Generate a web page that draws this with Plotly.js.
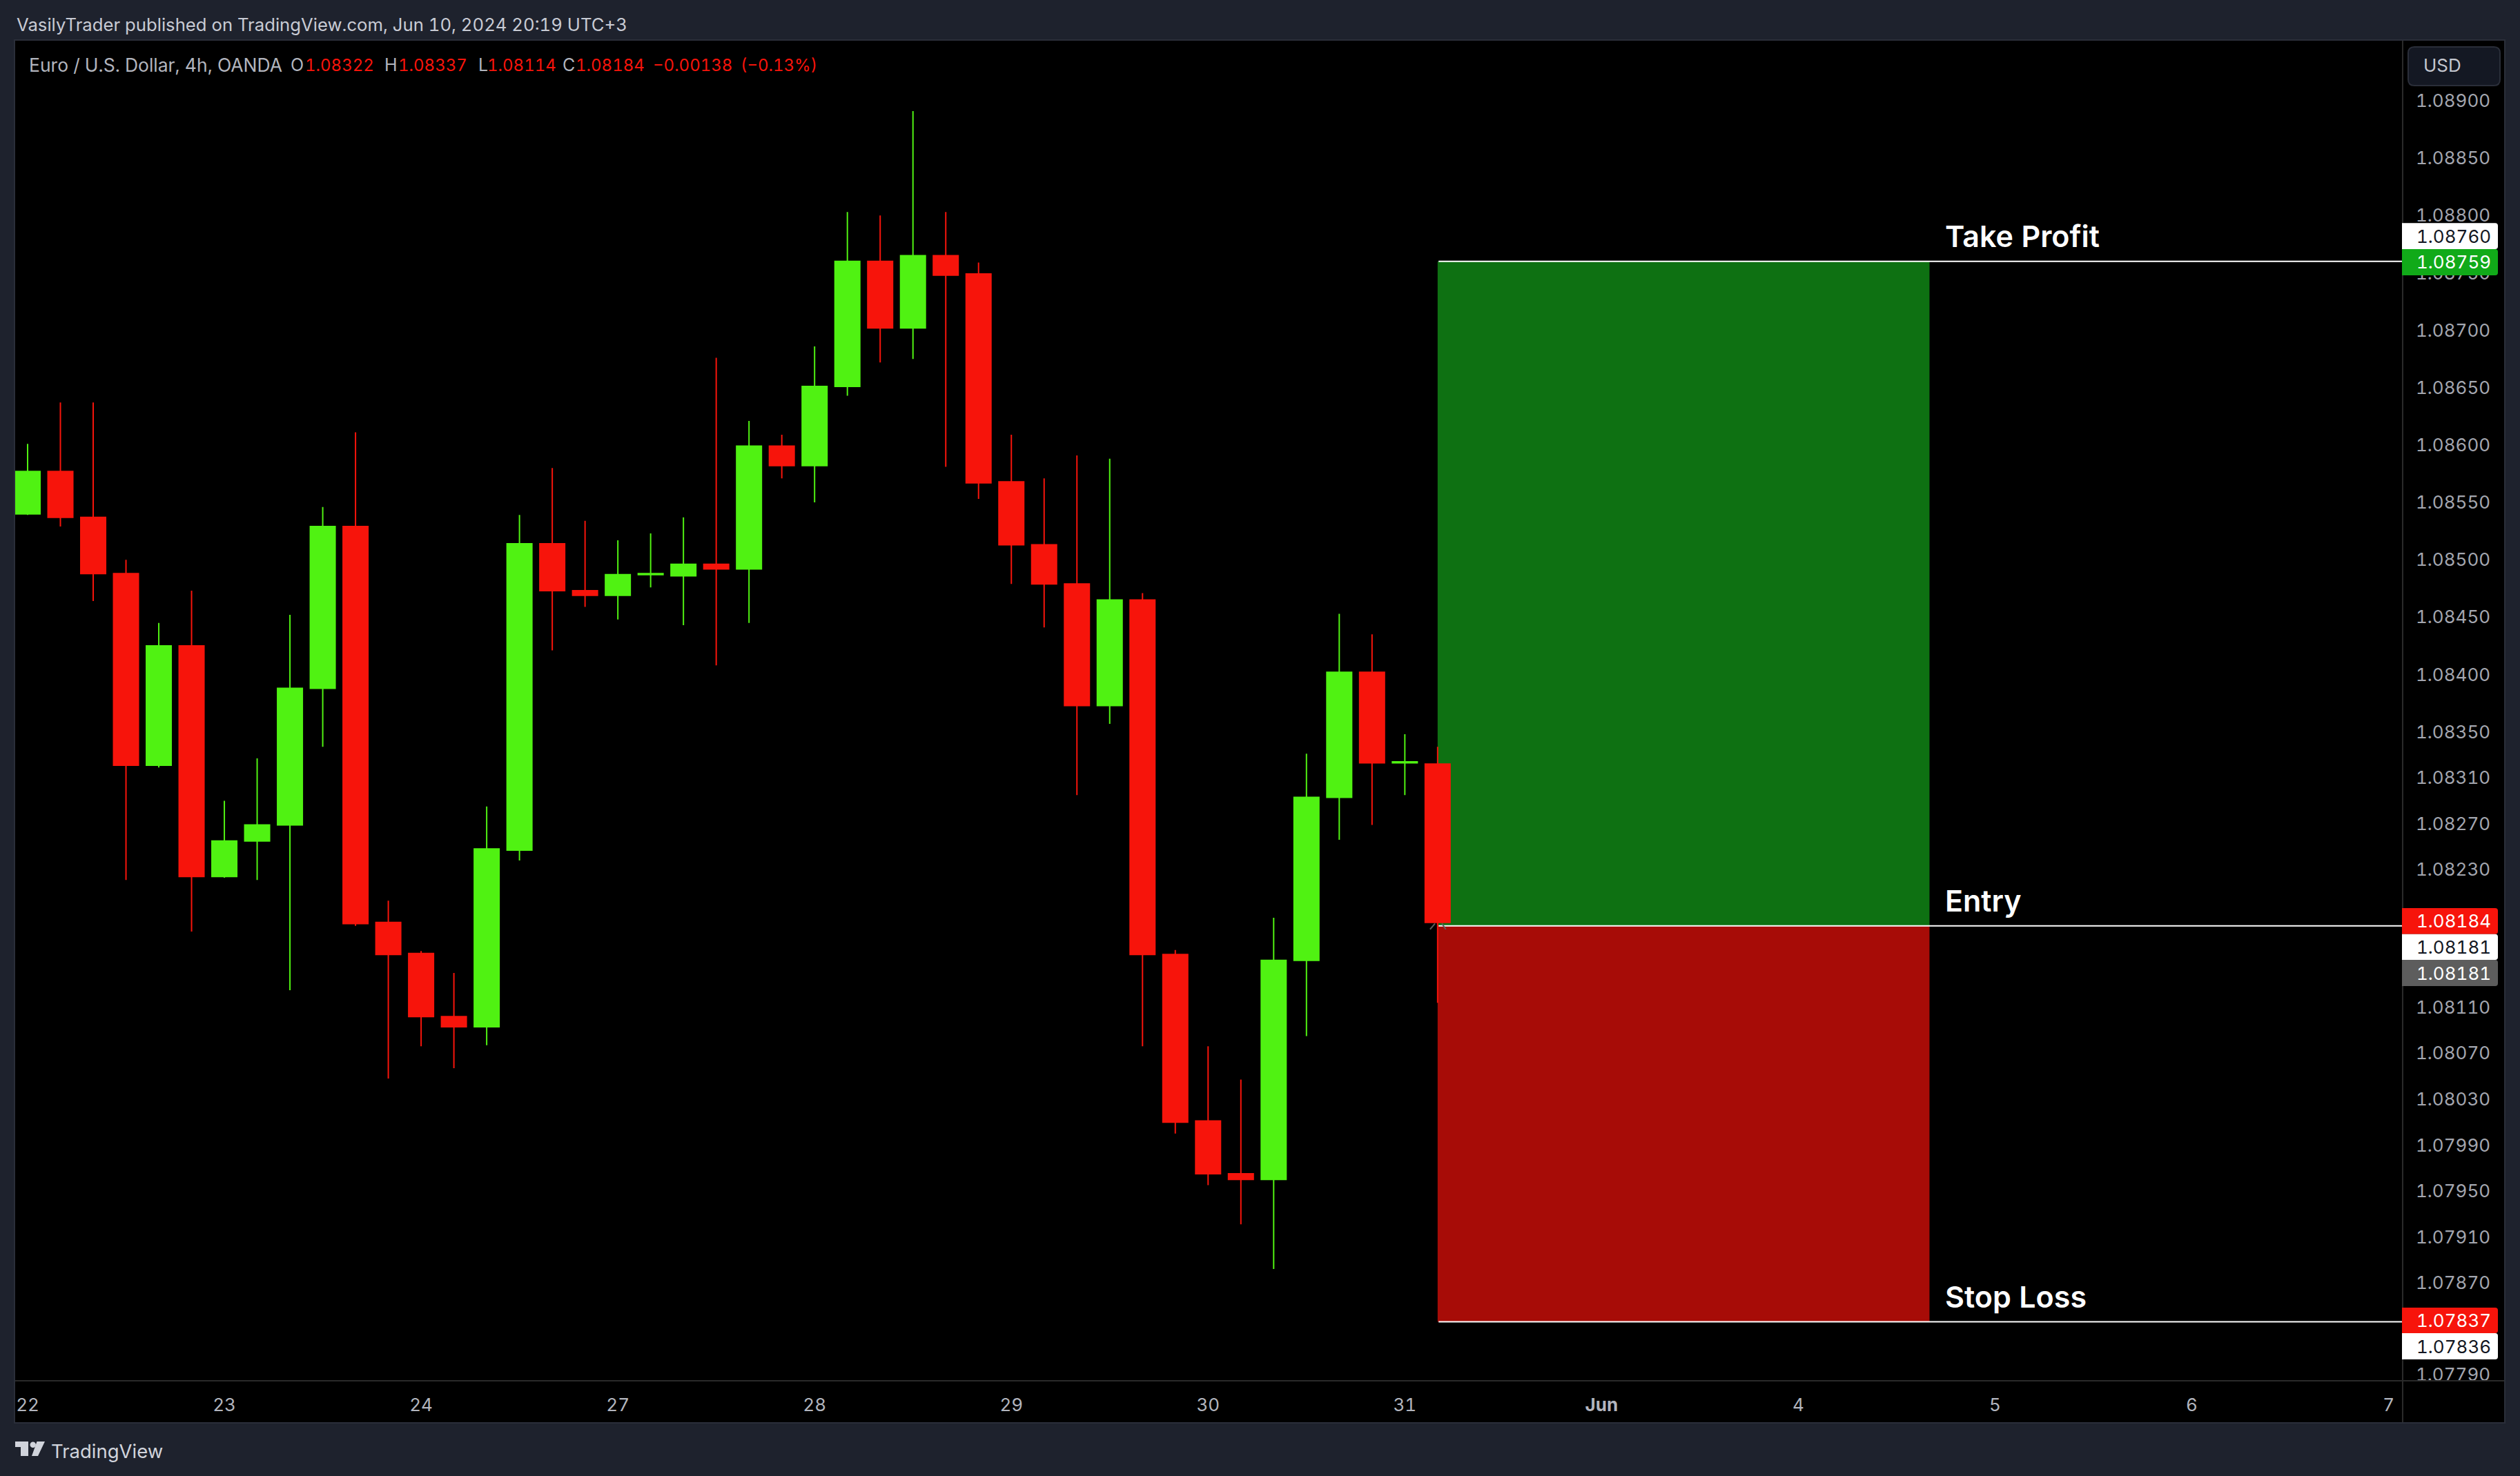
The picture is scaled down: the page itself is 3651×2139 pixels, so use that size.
<!DOCTYPE html>
<html>
<head>
<meta charset="utf-8">
<script src="https://cdn.plot.ly/plotly-3.0.1.min.js"></script>
<style>html,body{margin:0;padding:0;background:#1e222d;overflow:hidden}#chart{width:3651px;height:2139px}
svg text{font-feature-settings:"tnum" 1;font-variant-numeric:tabular-nums}</style>
</head>
<body>
<div id="chart"></div>
<script>
const candleOpen = [1.08540,1.08577,1.08537,1.08488,1.08321,1.08425,1.08224,1.08255,1.08269,1.08388,1.08529,
  1.08184,1.08157,1.08102,1.08093,1.08247,1.08514,1.08473,1.08469,1.08487,1.08486,1.08496,
  1.08492,1.08599,1.08582,1.08651,1.08760,1.08702,1.08765,1.08749,1.08568,1.08513,1.08479,
  1.08373,1.08465,1.08156,1.08011,1.07965,1.07960,1.08151,1.08293,1.08402,1.08323,1.08322];
const candleHigh = [1.08601,1.08637,1.08637,1.08500,1.08445,1.08473,1.08290,1.08327,1.08452,1.08546,1.08611,
  1.08203,1.08159,1.08140,1.08285,1.08539,1.08580,1.08534,1.08517,1.08523,1.08537,1.08676,
  1.08621,1.08609,1.08686,1.08803,1.08800,1.08891,1.08803,1.08759,1.08609,1.08571,1.08591,
  1.08588,1.08471,1.08160,1.08076,1.08047,1.08188,1.08331,1.08453,1.08435,1.08348,1.08337];
const candleLow = [1.08539,1.08529,1.08464,1.08221,1.08319,1.08176,1.08223,1.08221,1.08125,1.08337,1.08181,
  1.08048,1.08076,1.08057,1.08077,1.08238,1.08421,1.08459,1.08448,1.08476,1.08443,1.08408,
  1.08445,1.08571,1.08550,1.08643,1.08672,1.08675,1.08581,1.08553,1.08479,1.08441,1.08295,
  1.08357,1.08076,1.08000,1.07955,1.07921,1.07882,1.08085,1.08256,1.08269,1.08295,1.08114];
const candleClose = [1.08577,1.08537,1.08488,1.08321,1.08425,1.08224,1.08255,1.08269,1.08388,1.08529,1.08183,
  1.08156,1.08102,1.08093,1.08248,1.08514,1.08473,1.08469,1.08487,1.08488,1.08496,1.08492,
  1.08599,1.08582,1.08651,1.08760,1.08702,1.08765,1.08748,1.08567,1.08513,1.08479,1.08373,
  1.08465,1.08156,1.08010,1.07965,1.07960,1.08151,1.08293,1.08402,1.08323,1.08324,1.08184];
const candleIndex = candleOpen.map((_, i) => i);

const dayTickIndex = [0,6,12,18,24,30,36,42,48,54,60,66,72];
const dayTickText = ['22','23','24','27','28','29','30','31','<b>Jun</b>','4','5','6','7'];
const priceTicks = [1.08900,1.08850,1.08800,1.08750,1.08700,1.08650,1.08600,1.08550,1.08500,1.08450,1.08400,1.08350,
  1.08310,1.08270,1.08230,1.08190,1.08110,1.08070,1.08030,1.07990,1.07950,1.07910,1.07870,1.07790];

const takeProfit = 1.08760, entry = 1.08181, stopLoss = 1.07836;
const zoneStartIndex = 43, zoneEndIndex = 58;
const entryMarkX = [42.77,42.92,null,43.13,43.25];
const entryMarkY = [1.08178,1.08183,null,1.08183,1.08178];

const GREEN = '#50f212', RED = '#f7140b', FONT = 'Inter, "Noto Sans", sans-serif';
const BG = '#1e222d', BORDER = '#2a2e39', SEP = '#2a2a2a';

// page furniture is placed in page pixels and converted to the paper frame
const L = 22, R = 3481, T = 59, B = 2001;
const px = x => (x - L) / (R - L);
const py = y => (B - y) / (B - T);
const rectPx = (x0, y0, x1, y1, fill, layer, line) => ({type:'rect', xref:'paper', yref:'paper',
  x0:px(x0), x1:px(x1), y0:py(y0), y1:py(y1), fillcolor:fill, layer:layer||'above',
  line: line ? {color:line, width:2} : {width:0}});
const poly = (pts, fill) => ({type:'path', xref:'paper', yref:'paper', layer:'above', fillcolor:fill, line:{width:0},
  path:'M' + pts.map(p => px(p[0]) + ',' + py(p[1])).join('L') + 'Z'});
function tag(y0, y1, fill) {
  const x0 = 3480, x1 = 3619, r = 4;
  const P = (x, y) => px(x) + ',' + py(y);
  return {type:'path', xref:'paper', yref:'paper', layer:'above', fillcolor:fill, line:{width:0},
    path:'M'+P(x0,y0)+'L'+P(x1-r,y0)+'Q'+P(x1,y0)+' '+P(x1,y0+r)+'L'+P(x1,y1-r)+'Q'+P(x1,y1)+' '+P(x1-r,y1)+'L'+P(x0,y1)+'Z'};
}
function roundRect(x0,y0,x1,y1,r,fill,line){
  const P = (x, y) => px(x) + ',' + py(y);
  return {type:'path', xref:'paper', yref:'paper', layer:'above', fillcolor:fill, line:{color:line,width:2},
    path:'M'+P(x0+r,y0)+'L'+P(x1-r,y0)+'Q'+P(x1,y0)+' '+P(x1,y0+r)+'L'+P(x1,y1-r)+'Q'+P(x1,y1)+' '+P(x1-r,y1)+
      'L'+P(x0+r,y1)+'Q'+P(x0,y1)+' '+P(x0,y1-r)+'L'+P(x0,y0+r)+'Q'+P(x0,y0)+' '+P(x0+r,y0)+'Z'};
}

const tags = [
  [323.3,361,'#ffffff','1.08760','#131722'],
  [361,399,'#11aa19','1.08759','#ffffff'],
  [1316,1353.7,RED,'1.08184','#ffffff'],
  [1353.7,1391,'#ffffff','1.08181','#131722'],
  [1391,1429,'#5d5d5d','1.08181','#ffffff'],
  [1895,1932,RED,'1.07837','#ffffff'],
  [1932,1970,'#ffffff','1.07836','#131722']
];

const shapes = [
  // panes behind the axes
  rectPx(R, T, 3628, 2061, '#000000', 'below'),
  rectPx(L, B, R, 2061, '#000000', 'below'),
  // trade zones
  {type:'rect', xref:'x', yref:'y', x0:zoneStartIndex, x1:zoneEndIndex, y0:entry, y1:takeProfit, fillcolor:'#0e7112', line:{width:0}, layer:'below'},
  {type:'rect', xref:'x', yref:'y', x0:zoneStartIndex, x1:zoneEndIndex, y0:stopLoss, y1:entry, fillcolor:'#a70c07', line:{width:0}, layer:'below'},
  ...[takeProfit, entry, stopLoss].map(v => ({type:'line', xref:'x', yref:'y', x0:zoneStartIndex+0.03, x1:72.43, y0:v, y1:v, line:{color:'#ffffff', width:2}, layer:'below'})),
  // clip the price scale at the time scale, separators, frame
  rectPx(R+1, B, 3628, 2061, '#000000'),
  rectPx(R-1, T, R+1, 2061, SEP),
  rectPx(L, B-1, 3628, B+1, SEP),
  rectPx(21, 58, 3629, 2062, 'rgba(0,0,0,0)', 'above', BORDER),
  // scale tags
  ...tags.map(t => tag(t[0], t[1], t[2])),
  // currency button
  roundRect(3489, 68, 3622, 124, 9, '#141823', BORDER),
  // logo
  poly([[22,2089],[41,2089],[41,2110],[30,2110],[30,2097],[22,2097]], '#d1d4dc'),
  poly([[53.5,2089],[65,2089],[55,2110],[46,2110]], '#d1d4dc'),
  {type:'circle', xref:'paper', yref:'paper', layer:'above', fillcolor:'#d1d4dc', line:{width:0},
    x0:px(43.5), x1:px(52), y0:py(2089.5), y1:py(2098)}
];

const pageText = (x, y, text, size, color, anchor, extra) => Object.assign({xref:'paper', yref:'paper', x:px(x), y:py(y),
  text, showarrow:false, xanchor:anchor||'left', yanchor:'middle', borderpad:0, align:anchor||'left',
  font:{family:FONT, size, color}}, extra||{});
const legendGrey = '#b2b5be';
const legendBits = [
  [41,'Euro / U.S. Dollar, 4h, OANDA',legendGrey,26.5],
  [420,'O',legendGrey,25],[441,'1.08322',RED,24],
  [556,'H',legendGrey,25],[576,'1.08337',RED,24],
  [692,'L',legendGrey,25],[705,'1.08114',RED,24],
  [814,'C',legendGrey,25],[833,'1.08184',RED,24],
  [945,'\u22120.00138',RED,24],[1072,'(\u22120.13%)',RED,24]
];

const annotations = [
  pageText(23, 36, 'VasilyTrader published on TradingView.com, Jun 10, 2024 20:19 UTC+3', 25.7, '#c8cbd4'),
  ...legendBits.map(b => pageText(b[0], 94, b[1], b[3], b[2])),
  pageText(3510, 95, 'USD', 26, '#c4c7d0'),
  pageText(73, 2103, 'TradingView', 27.5, '#d1d4dc'),
  ...tags.map(t => pageText(3610, (t[0]+t[1])/2, t[3], 26, t[4], 'right')),
  ...[['Take Profit',takeProfit],['Entry',entry],['Stop Loss',stopLoss]].map(a => ({xref:'x', yref:'y', x:zoneEndIndex, y:a[1],
    text:a[0], showarrow:false, xanchor:'left', yanchor:'middle', xshift:22, yshift:37, borderpad:0,
    font:{family:FONT, size:43, color:'#ffffff', weight:600}}))
];

const traces = [
  {type:'candlestick', x:candleIndex, open:candleOpen, high:candleHigh, low:candleLow, close:candleClose,
   increasing:{line:{color:GREEN, width:2}, fillcolor:GREEN},
   decreasing:{line:{color:RED, width:2}, fillcolor:RED},
   whiskerwidth:0, hoverinfo:'skip', showlegend:false},
  {type:'scatter', mode:'lines', x:entryMarkX, y:entryMarkY, line:{color:'#5d5d5d', width:2}, hoverinfo:'skip', showlegend:false}
];

const layout = {
  width:3651, height:2139,
  margin:{l:L, r:3651-R, t:T, b:2139-B, pad:0},
  paper_bgcolor:BG, plot_bgcolor:'#000000',
  font:{family:FONT},
  boxgap:0.242, boxgroupgap:0,
  showlegend:false,
  xaxis:{type:'linear', range:[-0.379,72.43], tickmode:'array', tickvals:dayTickIndex, ticktext:dayTickText,
    showgrid:false, zeroline:false, showline:false, ticks:'', ticklabelstandoff:17,
    tickfont:{family:FONT, size:26, color:'#b2b5be'}, rangeslider:{visible:false}, fixedrange:true},
  yaxis:{type:'linear', side:'right', range:[1.077846,1.089523], tickmode:'array', tickvals:priceTicks,
    ticktext:priceTicks.map(v => v.toFixed(5)), showgrid:false, zeroline:false, showline:false, ticks:'', ticklabelstandoff:18,
    tickfont:{family:FONT, size:26, color:'#a3a6af'}, fixedrange:true},
  shapes, annotations
};

Plotly.newPlot('chart', traces, layout, {displayModeBar:false, staticPlot:true});
</script>
</body>
</html>
